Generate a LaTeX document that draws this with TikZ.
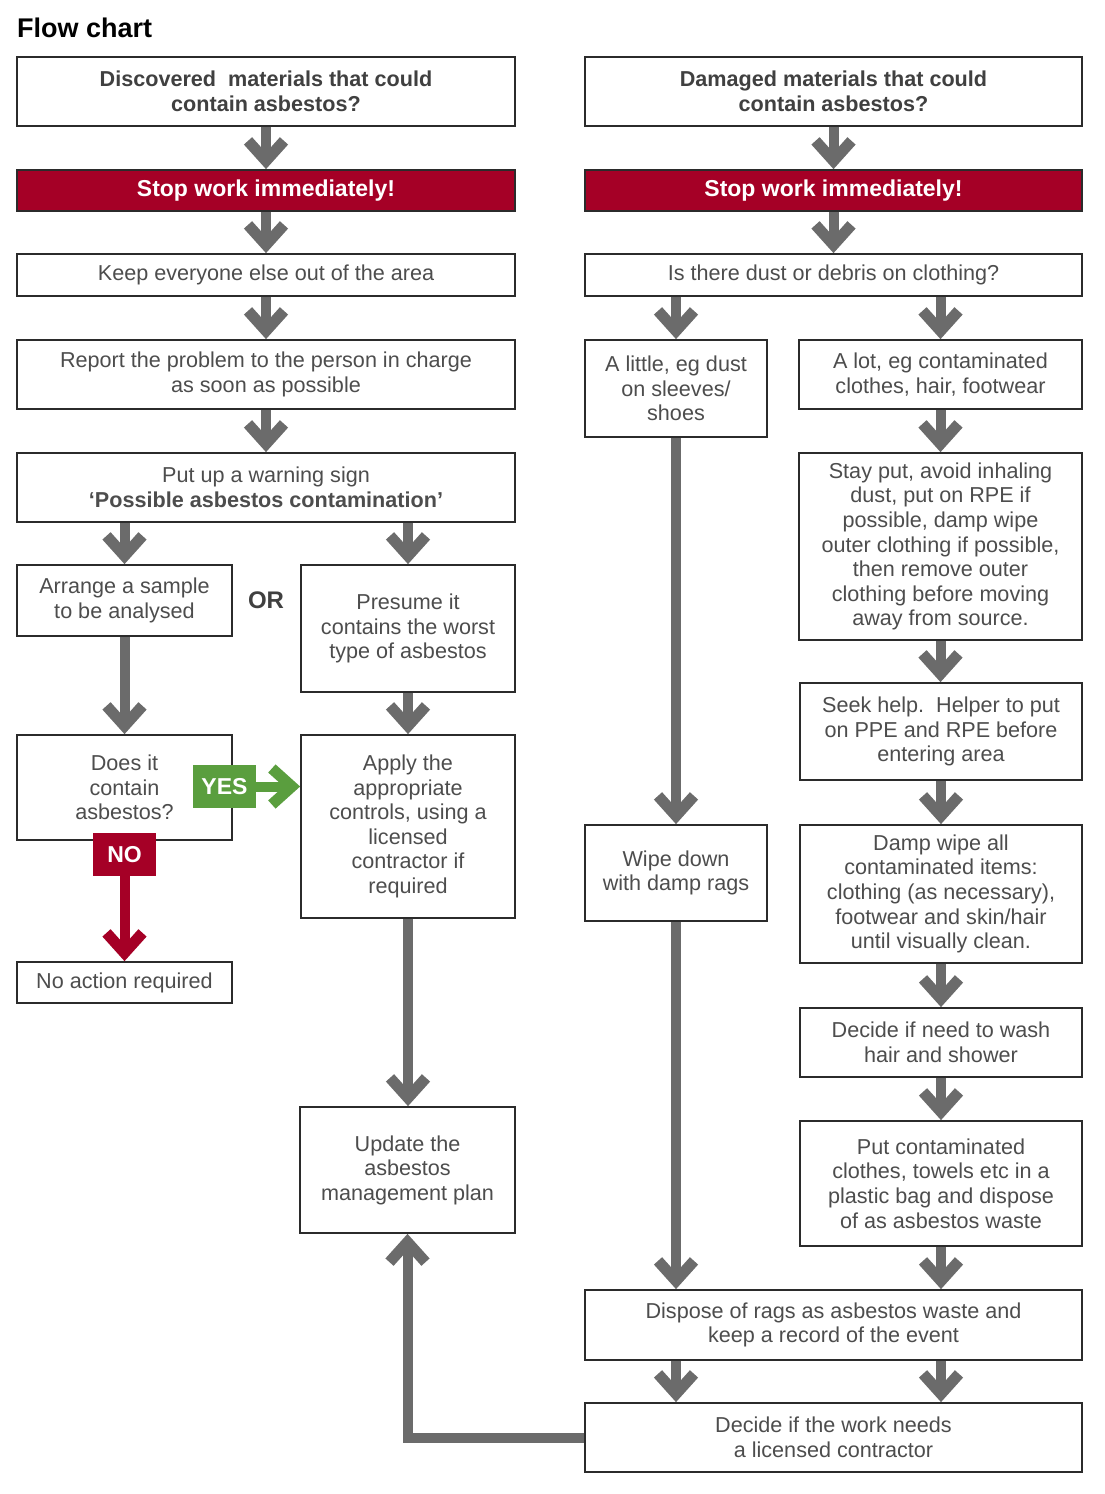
\documentclass[tikz,border=0pt]{standalone}
\usepackage{fontspec}
\setmainfont{Liberation Sans}
\usetikzlibrary{arrows.meta}
\definecolor{txt}{HTML}{4D4D4D}
\definecolor{hsred}{HTML}{A50026}
\definecolor{hsgreen}{HTML}{5A9E3E}
\definecolor{arrgray}{HTML}{6B6B6B}
\definecolor{boxline}{HTML}{2B2B2B}
\newcommand\mybox[7][box]{\node[#1,minimum width={(#5)-(#3)},minimum height={(#6)-(#4)}] (#2) at ({((#3)+(#5))/2},{((#4)+(#6))/2}) {#7};}
\begin{document}
\begin{tikzpicture}[x=1pt,y=-1pt,
 box/.style={draw=boxline,line width=1.8pt,fill=white,align=center,inner sep=0pt,text=txt,font=\fontsize{21.6}{24.6}\selectfont},
 headbox/.style={box,text=black!75,font=\fontsize{21.6}{24.6}\selectfont\bfseries},
 stopbox/.style={box,fill=hsred,text=white,font=\fontsize{23}{26}\selectfont\bfseries},
 lbl/.style={inner sep=0pt,minimum width=63pt,minimum height=43pt,text=white,font=\fontsize{23}{26}\selectfont\bfseries},
 flow/.style={draw=arrgray,line width=10pt,-{Straight Barb[length=20pt,width=36pt,line width=11pt]}},
 yesflow/.style={flow,draw=hsgreen},
 noflow/.style={flow,draw=hsred}]
\fill[white] (0,0) rectangle (1104,1494);
\useasboundingbox (0,0) rectangle (1104,1494);
\node[anchor=base west,inner sep=0pt,font=\fontsize{27}{30}\selectfont\bfseries,text=black] (title) at (17,37) {Flow chart};
% left column
\mybox[headbox]{d1}{17}{57}{515}{126}{Discovered\ \ materials that could\\contain asbestos?}
\mybox[stopbox]{s1}{17}{170}{515}{211}{Stop work immediately!}
\mybox{keep}{17}{254}{515}{296}{Keep everyone else out of the area}
\mybox{report}{17}{340}{515}{409}{Report the problem to the person in charge\\as soon as possible}
\mybox{warn}{17}{453}{515}{522}{Put up a warning sign\\\textbf{‘Possible asbestos contamination’}}
\mybox{arrange}{17}{565}{232}{636}{Arrange a sample\\to be analysed}
\mybox{presume}{301}{565}{515}{692}{Presume it\\contains the worst\\type of asbestos}
\mybox{does}{17}{735}{232}{840}{Does it\\contain\\asbestos?}
\mybox{apply}{301}{735}{515}{918}{Apply the\\appropriate\\controls, using a\\licensed\\contractor if\\required}
\mybox{noaction}{17}{962}{232}{1003}{No action required}
\mybox{update}{300}{1107}{515}{1233}{Update the\\asbestos\\management plan}
\node[inner sep=0pt,text=black!75,font=\fontsize{24}{26}\selectfont\bfseries] (or) at (266,600) {OR};
% right column
\mybox[headbox]{d2}{585}{57}{1082}{126}{Damaged materials that could\\contain asbestos?}
\mybox[stopbox]{s2}{585}{170}{1082}{211}{Stop work immediately!}
\mybox{dust}{585}{254}{1082}{296}{Is there dust or debris on clothing?}
\mybox{little}{585}{340}{767}{437}{A little, eg dust\\on sleeves/\\shoes}
\mybox{lot}{799}{340}{1082}{409}{A lot, eg contaminated\\clothes, hair, footwear}
\mybox{stay}{799}{453}{1082}{640}{Stay put, avoid inhaling\\dust, put on RPE if\\possible, damp wipe\\outer clothing if possible,\\then remove outer\\clothing before moving\\away from source.}
\mybox{seek}{800}{683}{1082}{780}{Seek help.\ \ Helper to put\\on PPE and RPE before\\entering area}
\mybox{wipe}{585}{825}{767}{921}{Wipe down\\with damp rags}
\mybox{damp}{800}{825}{1082}{963}{Damp wipe all\\contaminated items:\\clothing (as necessary),\\footwear and skin/hair\\until visually clean.}
\mybox{wash}{800}{1008}{1082}{1077}{Decide if need to wash\\hair and shower}
\mybox{put}{800}{1121}{1082}{1246}{Put contaminated\\clothes, towels etc in a\\plastic bag and dispose\\of as asbestos waste}
\mybox{dispose}{585}{1290}{1082}{1360}{Dispose of rags as asbestos waste and\\keep a record of the event}
\mybox{decide}{585}{1403}{1082}{1472}{Decide if the work needs\\a licensed contractor}
% left arrows
\draw[flow] (d1) -- (s1);
\draw[flow] (s1) -- (keep);
\draw[flow] (keep) -- (report);
\draw[flow] (report) -- (warn);
\draw[flow] (arrange.north |- warn.south) -- (arrange.north);
\draw[flow] (presume.north |- warn.south) -- (presume.north);
\draw[flow] (arrange) -- (does);
\draw[flow] (presume) -- (apply);
\draw[flow] (apply.south) -- (apply.south |- update.north);
\draw[flow] (decide.west) -| (update.south);
% right arrows
\draw[flow] (d2) -- (s2);
\draw[flow] (s2) -- (dust);
\draw[flow] (little.north |- dust.south) -- (little.north);
\draw[flow] (lot.north |- dust.south) -- (lot.north);
\draw[flow] (little) -- (wipe);
\draw[flow] (lot) -- (stay);
\draw[flow] (stay.south) -- (stay.south |- seek.north);
\draw[flow] (seek) -- (damp);
\draw[flow] (damp) -- (wash);
\draw[flow] (wash) -- (put);
\draw[flow] (put.south) -- (put.south |- dispose.north);
\draw[flow] (wipe.south) -- (wipe.south |- dispose.north);
\draw[flow] (wipe.south |- dispose.south) -- (wipe.south |- decide.north);
\draw[flow] (put.south |- dispose.south) -- (put.south |- decide.north);
% yes / no
\node[lbl,fill=hsgreen] (yes) at (224.5,786.5) {YES};
\node[lbl,fill=hsred] (no) at (124.5,854.5) {NO};
\draw[yesflow] (yes.east) -- (yes.east -| apply.west);
\draw[noflow] (no.south) -- (noaction.north);
\end{tikzpicture}
\end{document}
